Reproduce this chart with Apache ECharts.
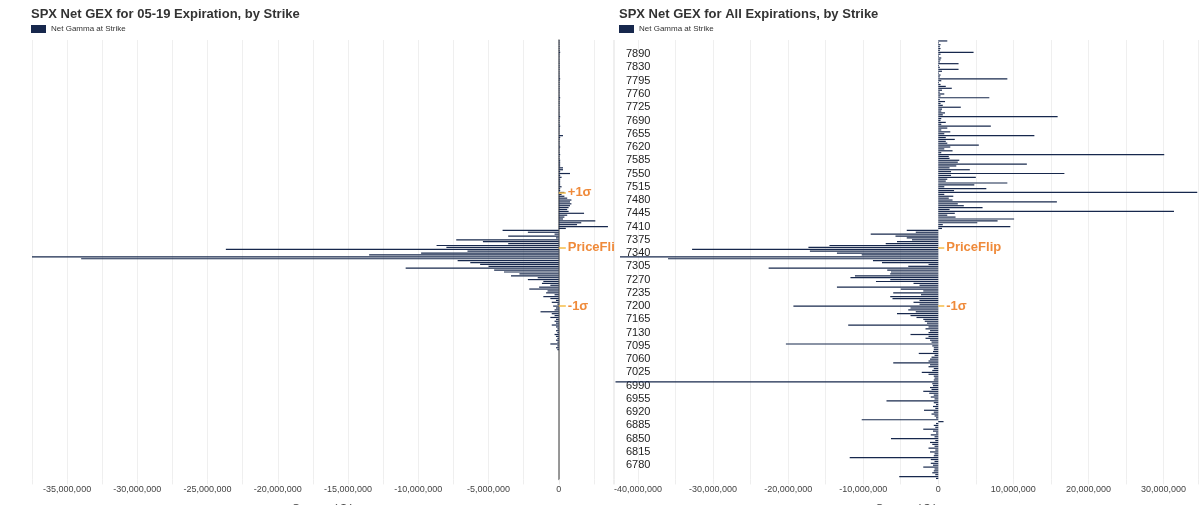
<!DOCTYPE html>
<html>
<head>
<meta charset="utf-8">
<title>SPX Net GEX by Strike</title>
<script src="https://cdn.jsdelivr.net/npm/echarts@6.0.0/dist/echarts.min.js"></script>
<style>
  html, body { margin: 0; padding: 0; background: #fff; }
  #wrap { position: relative; width: 1200px; height: 505px; overflow: hidden; }
  #left { position: absolute; left: 0; top: 0; width: 614px; height: 505px; }
  #right { position: absolute; left: 614px; top: 0; width: 586px; height: 505px; }
</style>
</head>
<body>
<div id="wrap">
  <div id="left"></div>
  <div id="right"></div>
</div>
<script>
// strikes (category axis, bottom to top): 5 pt steps up to 7830, then the wider far strikes
var strikes = [];
for (var s = 6745; s <= 7830; s += 5) strikes.push(String(s));
var farStrikes = ['7840', '7850', '7860', '7870', '7875', '7880', '7890',
                  '7900', '7910', '7920', '7925', '7950', '7975', '8000'];
strikes = strikes.concat(farStrikes);

// net gamma per strike, in millions of $ -- 05-19 expiration (left chart)
var gexExpiryM = [
  null, null, null, null, null, null, null, null, null, null,
  null, null, null, null, null, null, null, null, null, null,
  null, null, null, null, null, null, null, null, null, null,
  null, null, null, null, null, null, null, null, null, null,
  null, null, null, null, null, null, null, null, null, null,
  null, null, null, null, null, null, null, null, null, null,
  null, null, null, null, null, null, null, null,
  -0.1, -0.2, -0.1, -0.6, -0.1, -0.2, -0.1, -0.2, -0.3, -0.1,
  -0.2, -0.1, -0.2, -0.5, -0.2, -0.3, -0.2, -0.6, -0.3, -0.5,
  -1.3, -0.3, -0.2, -0.4, -0.1, -0.5, -0.2, -0.6, -1.1, -0.3,
  -0.9, -0.8, -2.1, -1.4, -0.6, -1.2, -1.1, -2.2, -1.5, -3.4,
  -2.8, -3.9, -4.6, -10.9, -5.0, -5.6, -6.3, -7.2, -34.0, -37.6,
  -13.5, -9.8, -6.5, -23.7, -8.0, -8.7, -3.6, -5.4, -7.3, -0.2,
  -3.6, -0.3, -2.2, -4.0, 0.5, 3.5, 1.3, 1.6, 2.6, 0.3,
  0.4, 0.6, 1.8, 0.7, 0.6, 0.7, 0.8, 0.9, 0.8, 0.9,
  0.6, 0.4, 0.2, 0.4, 0.1, 0.1, 0.2, 0.1, 0.1, 0.1,
  0.1, 0.2, 0.1, 0.8, 0.1, 0.3, 0.3, 0.1, 0.1, 0.1,
  0.1, 0.05, 0.05, 0.1, 0.05, 0.05, 0.05, 0.1, 0.05, 0.05,
  0.05, 0.05, 0.1, 0.3, 0.05, 0.05, 0.05, 0.05, 0.1, 0.05,
  0.05, 0.05, 0.05, 0.1, 0.05, 0.05, 0.05, 0.05, 0.05, 0.05,
  0.05, 0.05, 0.05, 0.1, 0.05, 0.05, 0.05, 0.05, 0.05, 0.05,
  0.05, 0.05, 0.05, 0.1, 0.05, 0.05, 0.05, 0.05, 0.05, 0.05,
  0.05, 0.05, 0.05, 0.05, 0.05, 0.05, 0.05, 0.1, 0.05, 0.05,
  0.05, 0.05, 0.05, 0.05
];

// net gamma per strike, in millions of $ -- all expirations (right chart)
var gexAllM = [
  -0.3, -5.2, -0.4, -0.8, -0.6, -0.5, -2.0, -0.7, -1.0, -0.5,
  -1.0, -11.8, -0.6, -0.5, -1.1, -0.4, -1.3, -0.5, -0.8, -1.1,
  -0.4, -6.3, -0.5, -1.0, -0.3, -0.7, -2.0, -0.4, -0.6, -0.3,
  0.7, -10.2, -0.3, -0.5, -0.9, -0.6, -1.9, -0.4, -0.7, -0.3,
  -0.6, -6.9, -0.5, -1.0, -0.6, -1.2, -2.0, -0.9, -1.1, -0.7,
  -0.8, -43.0, -0.6, -0.5, -0.6, -1.3, -2.2, -0.8, -0.6, -1.3,
  -1.1, -6.0, -1.3, -1.1, -0.9, -0.5, -2.6, -0.7, -0.6, -0.6,
  -0.8, -20.3, -0.9, -1.1, -1.7, -1.3, -3.7, -1.3, -1.1, -1.7,
  -1.3, -12.0, -1.5, -1.8, -2.0, -2.9, -3.7, -5.5, -3.0, -4.0,
  -3.7, -19.3, -2.5, -3.3, -2.5, -6.1, -6.4, -2.3, -6.0, -2.0,
  -5.0, -13.5, -2.5, -3.3, -8.3, -6.4, -11.7, -11.1, -6.4, -6.3,
  -6.8, -22.6, -4.0, -1.3, -7.5, -8.7, -36.0, -42.4, -10.2, -13.5,
  -17.1, -32.8, -17.3, -14.5, -7.0, -5.5, -3.5, -4.2, -5.7, -9.0,
  -3.0, -4.2, 0.5, 9.6, 0.6, 5.2, 7.9, 10.1, 2.3, 1.2,
  2.2, 31.4, 1.5, 5.9, 3.4, 2.6, 15.8, 1.9, 1.4, 2.0,
  0.8, 34.5, 2.1, 6.4, 0.8, 4.8, 9.2, 1.0, 1.2, 5.0,
  1.7, 16.8, 1.7, 4.2, 1.5, 2.4, 11.8, 2.6, 2.8, 1.5,
  1.4, 30.1, 0.4, 1.9, 0.8, 1.6, 5.4, 1.2, 1.0, 2.2,
  1.0, 12.8, 0.8, 1.6, 0.4, 1.2, 7.0, 0.4, 1.0, 0.3,
  0.4, 15.9, 0.6, 0.9, 0.4, 0.5, 3.0, 0.6, 0.3, 0.9,
  0.2, 6.8, 0.3, 0.8, 0.2, 0.5, 1.8, 1.0, 0.3, 0.1,
  0.4, 9.2, 0.2, 0.3, 0.1, 0.5, 2.7, 0.2,
  0.1, 2.7, 0.2, 0.3, 0.4, 0.1,
  0.3,
  4.7, 0.2, 0.3, 0.2, 0.3, 0.1, 1.2
];

// level markers (name + strike)
var levelNamesLeft = ['+1σ', 'PriceFlip', '-1σ'];
var levelStrikesLeft = ['7500', '7355', '7200'];
var levelNamesRight = ['PriceFlip', '-1σ'];
var levelStrikesRight = ['7355', '7200'];

var FONT = '"Liberation Sans", Arial, Helvetica, sans-serif';
var BAR_COLOR = '#17284d';
var LAST_LABEL_INDEX = 224; // '7890' is the top labelled strike

function toDollars(arr) {
  return arr.map(function (v) { return v == null ? null : v * 1e6; });
}

function fmtNum(v) {
  return String(v).replace(/\B(?=(\d{3})+(?!\d))/g, ',');
}

function markLines(names, strikesAt, len) {
  return names.map(function (n, i) {
    return [
      { name: n, coord: [0, strikesAt[i]] },
      { coord: [len, strikesAt[i]] }
    ];
  });
}

function buildOption(cfg) {
  return {
    animation: false,
    textStyle: { fontFamily: FONT },
    title: {
      text: cfg.title,
      left: cfg.titleLeft,
      top: 3,
      padding: 5,
      textStyle: { fontSize: 13, fontWeight: 'bold', color: '#333', fontFamily: FONT }
    },
    legend: {
      data: ['Net Gamma at Strike'],
      left: cfg.titleLeft,
      top: 20,
      padding: 5,
      icon: 'rect',
      itemWidth: 15,
      itemHeight: 8,
      itemGap: 5,
      textStyle: { fontSize: 8, color: '#333', fontFamily: FONT }
    },
    grid: {
      left: cfg.gridLeft, right: cfg.gridRight, top: 40, bottom: 25.6,
      outerBoundsMode: 'none'
    },
    xAxis: {
      type: 'value',
      min: cfg.min,
      max: cfg.max,
      minInterval: cfg.step,
      maxInterval: cfg.step,
      name: 'Gamma ( $ )',
      nameLocation: 'middle',
      nameGap: 24,
      nameTextStyle: { fontSize: 11, color: '#444', fontFamily: FONT },
      axisLine: { show: false },
      axisTick: { show: true, length: 5, lineStyle: { color: '#eeeeee' } },
      splitLine: { show: true, lineStyle: { color: '#efefef', width: 1 } },
      axisLabel: {
        fontSize: 9,
        color: '#444',
        margin: 6,
        fontFamily: FONT,
        formatter: function (v) {
          return (Math.abs(v) % cfg.labelStep === 0) ? fmtNum(v) : '';
        }
      }
    },
    yAxis: {
      type: 'category',
      data: strikes,
      axisLine: cfg.yAxisLine,
      axisTick: { show: false },
      splitLine: { show: false },
      axisLabel: cfg.yLabel
    },
    series: [{
      name: 'Net Gamma at Strike',
      type: 'bar',
      data: toDollars(cfg.values),
      barWidth: 1.2,
      itemStyle: { color: BAR_COLOR },
      markLine: {
        silent: true,
        animation: false,
        symbol: 'none',
        lineStyle: { color: '#f4bd48', width: 1.5, type: 'solid' },
        label: {
          show: true,
          position: 'end',
          formatter: '{b}',
          color: '#ef8a3a',
          fontWeight: 'bold',
          fontSize: 13,
          fontFamily: FONT,
          distance: 2
        },
        data: markLines(cfg.levelNames, cfg.levelStrikes, cfg.markLen)
      }
    }]
  };
}

var leftChart = echarts.init(document.getElementById('left'));
leftChart.setOption(buildOption({
  title: 'SPX Net GEX for 05-19 Expiration, by Strike',
  titleLeft: 26,
  gridLeft: 32,
  gridRight: 1,
  min: -37.5e6,
  max: 3.86e6,
  step: 2.5e6,
  labelStep: 5e6,
  values: gexExpiryM,
  levelNames: levelNamesLeft,
  levelStrikes: levelStrikesLeft,
  markLen: 0.5e6,
  yAxisLine: { show: true, onZero: true, lineStyle: { color: '#777', width: 1.5 } },
  yLabel: { show: false }
}));

var rightChart = echarts.init(document.getElementById('right'));
rightChart.setOption(buildOption({
  title: 'SPX Net GEX for All Expirations, by Strike',
  titleLeft: 0,
  gridLeft: 0,
  gridRight: 2,
  min: -43.2e6,
  max: 34.6e6,
  step: 5e6,
  labelStep: 10e6,
  values: gexAllM,
  levelNames: levelNamesRight,
  levelStrikes: levelStrikesRight,
  markLen: 0.8e6,
  yAxisLine: { show: false, onZero: false },
  yLabel: {
    show: true,
    inside: true,
    margin: 12,
    fontSize: 11,
    color: '#222',
    fontFamily: FONT,
    interval: function (index) {
      return index > 0 && index <= LAST_LABEL_INDEX && index % 7 === 0;
    }
  }
}));
</script>
</body>
</html>
